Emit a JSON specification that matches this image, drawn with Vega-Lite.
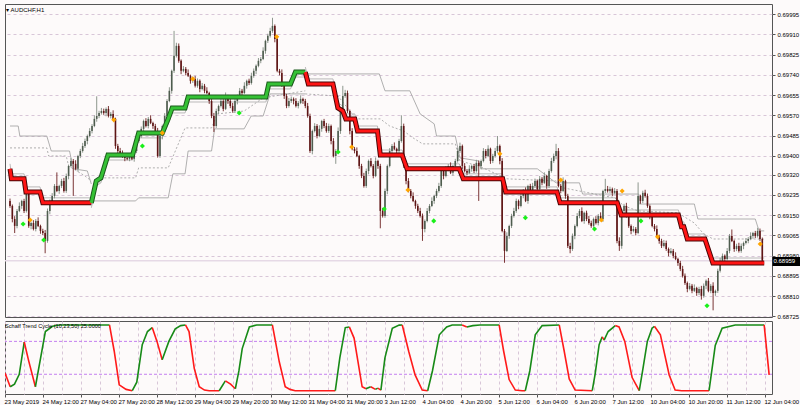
{
"$schema":"https://vega.github.io/schema/vega-lite/v6.json",
"padding":{"left":3,"top":3,"right":0,"bottom":0},
"background":"#fdfafa",
"spacing":4,
"bounds":"flush",
"config":{
 "view":{"stroke":"#555555","strokeWidth":1},
 "axis":{"labelFont":"Liberation Sans","labelFontSize":6,"labelColor":"#000000","tickColor":"#555555","domainColor":"#555555","gridColor":"#d8c6d8","gridDash":[3,3],"gridWidth":1},
 "title":{"font":"Liberation Sans","fontWeight":"normal","color":"#000000","anchor":"start","baseline":"top"}
},
"datasets":{
"bars":[
{"i":0,"o":0.69210,"h":0.69220,"l":0.69181,"c":0.69189},
{"i":1,"o":0.69189,"h":0.69195,"l":0.69120,"c":0.69134},
{"i":2,"o":0.69134,"h":0.69146,"l":0.69075,"c":0.69105},
{"i":3,"o":0.69105,"h":0.69176,"l":0.69095,"c":0.69168},
{"i":4,"o":0.69168,"h":0.69204,"l":0.69163,"c":0.69189},
{"i":5,"o":0.69189,"h":0.69215,"l":0.69177,"c":0.69210},
{"i":6,"o":0.69210,"h":0.69219,"l":0.69159,"c":0.69168},
{"i":7,"o":0.69168,"h":0.69257,"l":0.69161,"c":0.69244},
{"i":8,"o":0.69244,"h":0.69254,"l":0.69097,"c":0.69105},
{"i":9,"o":0.69105,"h":0.69123,"l":0.69091,"c":0.69117},
{"i":10,"o":0.69117,"h":0.69129,"l":0.69086,"c":0.69092},
{"i":11,"o":0.69092,"h":0.69134,"l":0.69082,"c":0.69126},
{"i":12,"o":0.69126,"h":0.69141,"l":0.69100,"c":0.69105},
{"i":13,"o":0.69105,"h":0.69110,"l":0.69072,"c":0.69084},
{"i":14,"o":0.69084,"h":0.69093,"l":0.69066,"c":0.69075},
{"i":15,"o":0.69075,"h":0.69088,"l":0.68990,"c":0.69042},
{"i":16,"o":0.69042,"h":0.69178,"l":0.69034,"c":0.69168},
{"i":17,"o":0.69168,"h":0.69216,"l":0.69154,"c":0.69210},
{"i":18,"o":0.69210,"h":0.69243,"l":0.69204,"c":0.69231},
{"i":19,"o":0.69231,"h":0.69281,"l":0.69221,"c":0.69273},
{"i":20,"o":0.69273,"h":0.69330,"l":0.69247,"c":0.69252},
{"i":21,"o":0.69252,"h":0.69278,"l":0.69240,"c":0.69273},
{"i":22,"o":0.69273,"h":0.69303,"l":0.69264,"c":0.69294},
{"i":23,"o":0.69294,"h":0.69307,"l":0.69245,"c":0.69252},
{"i":24,"o":0.69252,"h":0.69325,"l":0.69244,"c":0.69315},
{"i":25,"o":0.69315,"h":0.69363,"l":0.69301,"c":0.69357},
{"i":26,"o":0.69357,"h":0.69390,"l":0.69351,"c":0.69378},
{"i":27,"o":0.69378,"h":0.69386,"l":0.69231,"c":0.69366},
{"i":28,"o":0.69366,"h":0.69381,"l":0.69340,"c":0.69345},
{"i":29,"o":0.69345,"h":0.69404,"l":0.69333,"c":0.69399},
{"i":30,"o":0.69399,"h":0.69429,"l":0.69390,"c":0.69420},
{"i":31,"o":0.69420,"h":0.69454,"l":0.69413,"c":0.69441},
{"i":32,"o":0.69441,"h":0.69472,"l":0.69433,"c":0.69462},
{"i":33,"o":0.69462,"h":0.69489,"l":0.69448,"c":0.69483},
{"i":34,"o":0.69483,"h":0.69516,"l":0.69477,"c":0.69504},
{"i":35,"o":0.69504,"h":0.69533,"l":0.69494,"c":0.69525},
{"i":36,"o":0.69525,"h":0.69570,"l":0.69520,"c":0.69555},
{"i":37,"o":0.69555,"h":0.69650,"l":0.69543,"c":0.69567},
{"i":38,"o":0.69567,"h":0.69589,"l":0.69558,"c":0.69580},
{"i":39,"o":0.69580,"h":0.69601,"l":0.69573,"c":0.69588},
{"i":40,"o":0.69588,"h":0.69598,"l":0.69572,"c":0.69580},
{"i":41,"o":0.69580,"h":0.69603,"l":0.69566,"c":0.69597},
{"i":42,"o":0.69597,"h":0.69609,"l":0.69561,"c":0.69567},
{"i":43,"o":0.69567,"h":0.69584,"l":0.69557,"c":0.69576},
{"i":44,"o":0.69576,"h":0.69591,"l":0.69550,"c":0.69555},
{"i":45,"o":0.69555,"h":0.69560,"l":0.69429,"c":0.69441},
{"i":46,"o":0.69441,"h":0.69450,"l":0.69411,"c":0.69420},
{"i":47,"o":0.69420,"h":0.69433,"l":0.69405,"c":0.69412},
{"i":48,"o":0.69412,"h":0.69422,"l":0.69391,"c":0.69399},
{"i":49,"o":0.69399,"h":0.69405,"l":0.69377,"c":0.69391},
{"i":50,"o":0.69391,"h":0.69403,"l":0.69381,"c":0.69387},
{"i":51,"o":0.69387,"h":0.69407,"l":0.69377,"c":0.69399},
{"i":52,"o":0.69399,"h":0.69414,"l":0.69382,"c":0.69387},
{"i":53,"o":0.69387,"h":0.69425,"l":0.69375,"c":0.69420},
{"i":54,"o":0.69420,"h":0.69471,"l":0.69411,"c":0.69462},
{"i":55,"o":0.69462,"h":0.69496,"l":0.69455,"c":0.69483},
{"i":56,"o":0.69483,"h":0.69523,"l":0.69475,"c":0.69513},
{"i":57,"o":0.69513,"h":0.69552,"l":0.69499,"c":0.69546},
{"i":58,"o":0.69546,"h":0.69558,"l":0.69519,"c":0.69525},
{"i":59,"o":0.69525,"h":0.69563,"l":0.69515,"c":0.69555},
{"i":60,"o":0.69555,"h":0.69570,"l":0.69533,"c":0.69538},
{"i":61,"o":0.69538,"h":0.69543,"l":0.69513,"c":0.69525},
{"i":62,"o":0.69525,"h":0.69534,"l":0.69495,"c":0.69504},
{"i":63,"o":0.69504,"h":0.69517,"l":0.69392,"c":0.69399},
{"i":64,"o":0.69399,"h":0.69493,"l":0.69391,"c":0.69483},
{"i":65,"o":0.69483,"h":0.69531,"l":0.69469,"c":0.69525},
{"i":66,"o":0.69525,"h":0.69579,"l":0.69519,"c":0.69567},
{"i":67,"o":0.69567,"h":0.69638,"l":0.69557,"c":0.69630},
{"i":68,"o":0.69630,"h":0.69688,"l":0.69625,"c":0.69673},
{"i":69,"o":0.69673,"h":0.69762,"l":0.69661,"c":0.69757},
{"i":70,"o":0.69757,"h":0.69925,"l":0.69748,"c":0.69820},
{"i":71,"o":0.69820,"h":0.69875,"l":0.69813,"c":0.69862},
{"i":72,"o":0.69862,"h":0.69872,"l":0.69791,"c":0.69799},
{"i":73,"o":0.69799,"h":0.69805,"l":0.69743,"c":0.69757},
{"i":74,"o":0.69757,"h":0.69777,"l":0.69751,"c":0.69765},
{"i":75,"o":0.69765,"h":0.69773,"l":0.69738,"c":0.69748},
{"i":76,"o":0.69748,"h":0.69763,"l":0.69731,"c":0.69736},
{"i":77,"o":0.69736,"h":0.69741,"l":0.69703,"c":0.69715},
{"i":78,"o":0.69715,"h":0.69732,"l":0.69706,"c":0.69723},
{"i":79,"o":0.69723,"h":0.69736,"l":0.69687,"c":0.69694},
{"i":80,"o":0.69694,"h":0.69725,"l":0.69686,"c":0.69715},
{"i":81,"o":0.69715,"h":0.69721,"l":0.69667,"c":0.69681},
{"i":82,"o":0.69681,"h":0.69706,"l":0.69675,"c":0.69694},
{"i":83,"o":0.69694,"h":0.69702,"l":0.69663,"c":0.69673},
{"i":84,"o":0.69673,"h":0.69688,"l":0.69659,"c":0.69664},
{"i":85,"o":0.69664,"h":0.69669,"l":0.69618,"c":0.69630},
{"i":86,"o":0.69630,"h":0.69639,"l":0.69558,"c":0.69567},
{"i":87,"o":0.69567,"h":0.69580,"l":0.69500,"c":0.69525},
{"i":88,"o":0.69525,"h":0.69598,"l":0.69517,"c":0.69588},
{"i":89,"o":0.69588,"h":0.69615,"l":0.69574,"c":0.69609},
{"i":90,"o":0.69609,"h":0.69642,"l":0.69603,"c":0.69630},
{"i":91,"o":0.69630,"h":0.69638,"l":0.69587,"c":0.69597},
{"i":92,"o":0.69597,"h":0.69666,"l":0.69592,"c":0.69651},
{"i":93,"o":0.69651,"h":0.69656,"l":0.69618,"c":0.69630},
{"i":94,"o":0.69630,"h":0.69639,"l":0.69600,"c":0.69609},
{"i":95,"o":0.69609,"h":0.69622,"l":0.69581,"c":0.69588},
{"i":96,"o":0.69588,"h":0.69640,"l":0.69580,"c":0.69630},
{"i":97,"o":0.69630,"h":0.69657,"l":0.69616,"c":0.69651},
{"i":98,"o":0.69651,"h":0.69685,"l":0.69645,"c":0.69673},
{"i":99,"o":0.69673,"h":0.69681,"l":0.69654,"c":0.69664},
{"i":100,"o":0.69664,"h":0.69709,"l":0.69659,"c":0.69694},
{"i":101,"o":0.69694,"h":0.69720,"l":0.69682,"c":0.69715},
{"i":102,"o":0.69715,"h":0.69724,"l":0.69697,"c":0.69706},
{"i":103,"o":0.69706,"h":0.69749,"l":0.69699,"c":0.69736},
{"i":104,"o":0.69736,"h":0.69767,"l":0.69728,"c":0.69757},
{"i":105,"o":0.69757,"h":0.69784,"l":0.69743,"c":0.69778},
{"i":106,"o":0.69778,"h":0.69811,"l":0.69772,"c":0.69799},
{"i":107,"o":0.69799,"h":0.69815,"l":0.69789,"c":0.69807},
{"i":108,"o":0.69807,"h":0.69856,"l":0.69802,"c":0.69841},
{"i":109,"o":0.69841,"h":0.69888,"l":0.69829,"c":0.69883},
{"i":110,"o":0.69883,"h":0.69913,"l":0.69874,"c":0.69904},
{"i":111,"o":0.69904,"h":0.69938,"l":0.69897,"c":0.69925},
{"i":112,"o":0.69925,"h":0.69980,"l":0.69917,"c":0.69946},
{"i":113,"o":0.69946,"h":0.69952,"l":0.69877,"c":0.69891},
{"i":114,"o":0.69891,"h":0.69903,"l":0.69751,"c":0.69757},
{"i":115,"o":0.69757,"h":0.69765,"l":0.69738,"c":0.69748},
{"i":116,"o":0.69748,"h":0.69763,"l":0.69689,"c":0.69694},
{"i":117,"o":0.69694,"h":0.69699,"l":0.69639,"c":0.69651},
{"i":118,"o":0.69651,"h":0.69660,"l":0.69600,"c":0.69609},
{"i":119,"o":0.69609,"h":0.69643,"l":0.69602,"c":0.69630},
{"i":120,"o":0.69630,"h":0.69649,"l":0.69622,"c":0.69639},
{"i":121,"o":0.69639,"h":0.69645,"l":0.69616,"c":0.69630},
{"i":122,"o":0.69630,"h":0.69642,"l":0.69603,"c":0.69609},
{"i":123,"o":0.69609,"h":0.69630,"l":0.69599,"c":0.69622},
{"i":124,"o":0.69622,"h":0.69654,"l":0.69617,"c":0.69639},
{"i":125,"o":0.69639,"h":0.69644,"l":0.69618,"c":0.69630},
{"i":126,"o":0.69630,"h":0.69639,"l":0.69600,"c":0.69609},
{"i":127,"o":0.69609,"h":0.69622,"l":0.69560,"c":0.69567},
{"i":128,"o":0.69567,"h":0.69577,"l":0.69412,"c":0.69420},
{"i":129,"o":0.69420,"h":0.69510,"l":0.69406,"c":0.69504},
{"i":130,"o":0.69504,"h":0.69537,"l":0.69498,"c":0.69525},
{"i":131,"o":0.69525,"h":0.69533,"l":0.69473,"c":0.69483},
{"i":132,"o":0.69483,"h":0.69528,"l":0.69478,"c":0.69513},
{"i":133,"o":0.69513,"h":0.69551,"l":0.69501,"c":0.69546},
{"i":134,"o":0.69546,"h":0.69555,"l":0.69516,"c":0.69525},
{"i":135,"o":0.69525,"h":0.69538,"l":0.69497,"c":0.69504},
{"i":136,"o":0.69504,"h":0.69535,"l":0.69496,"c":0.69525},
{"i":137,"o":0.69525,"h":0.69531,"l":0.69448,"c":0.69462},
{"i":138,"o":0.69462,"h":0.69474,"l":0.69393,"c":0.69399},
{"i":139,"o":0.69399,"h":0.69428,"l":0.69366,"c":0.69420},
{"i":140,"o":0.69420,"h":0.69519,"l":0.69415,"c":0.69504},
{"i":141,"o":0.69504,"h":0.69593,"l":0.69492,"c":0.69588},
{"i":142,"o":0.69588,"h":0.69694,"l":0.69579,"c":0.69651},
{"i":143,"o":0.69651,"h":0.69677,"l":0.69644,"c":0.69664},
{"i":144,"o":0.69664,"h":0.69674,"l":0.69580,"c":0.69588},
{"i":145,"o":0.69588,"h":0.69594,"l":0.69490,"c":0.69504},
{"i":146,"o":0.69504,"h":0.69516,"l":0.69423,"c":0.69429},
{"i":147,"o":0.69429,"h":0.69437,"l":0.69410,"c":0.69420},
{"i":148,"o":0.69420,"h":0.69435,"l":0.69394,"c":0.69399},
{"i":149,"o":0.69399,"h":0.69404,"l":0.69345,"c":0.69357},
{"i":150,"o":0.69357,"h":0.69366,"l":0.69306,"c":0.69315},
{"i":151,"o":0.69315,"h":0.69328,"l":0.69266,"c":0.69273},
{"i":152,"o":0.69273,"h":0.69346,"l":0.69265,"c":0.69336},
{"i":153,"o":0.69336,"h":0.69384,"l":0.69322,"c":0.69378},
{"i":154,"o":0.69378,"h":0.69390,"l":0.69351,"c":0.69357},
{"i":155,"o":0.69357,"h":0.69365,"l":0.69305,"c":0.69315},
{"i":156,"o":0.69315,"h":0.69393,"l":0.69310,"c":0.69378},
{"i":157,"o":0.69378,"h":0.69383,"l":0.69345,"c":0.69357},
{"i":158,"o":0.69357,"h":0.69366,"l":0.69095,"c":0.69168},
{"i":159,"o":0.69168,"h":0.69181,"l":0.69140,"c":0.69147},
{"i":160,"o":0.69147,"h":0.69262,"l":0.69139,"c":0.69252},
{"i":161,"o":0.69252,"h":0.69363,"l":0.69238,"c":0.69357},
{"i":162,"o":0.69357,"h":0.69432,"l":0.69351,"c":0.69420},
{"i":163,"o":0.69420,"h":0.69449,"l":0.69410,"c":0.69441},
{"i":164,"o":0.69441,"h":0.69456,"l":0.69424,"c":0.69429},
{"i":165,"o":0.69429,"h":0.69434,"l":0.69408,"c":0.69420},
{"i":166,"o":0.69420,"h":0.69471,"l":0.69411,"c":0.69462},
{"i":167,"o":0.69462,"h":0.69570,"l":0.69455,"c":0.69525},
{"i":168,"o":0.69525,"h":0.69535,"l":0.69349,"c":0.69357},
{"i":169,"o":0.69357,"h":0.69363,"l":0.69280,"c":0.69294},
{"i":170,"o":0.69294,"h":0.69306,"l":0.69246,"c":0.69252},
{"i":171,"o":0.69252,"h":0.69260,"l":0.69221,"c":0.69231},
{"i":172,"o":0.69231,"h":0.69246,"l":0.69205,"c":0.69210},
{"i":173,"o":0.69210,"h":0.69215,"l":0.69177,"c":0.69189},
{"i":174,"o":0.69189,"h":0.69198,"l":0.69159,"c":0.69168},
{"i":175,"o":0.69168,"h":0.69181,"l":0.69140,"c":0.69147},
{"i":176,"o":0.69147,"h":0.69157,"l":0.69042,"c":0.69092},
{"i":177,"o":0.69092,"h":0.69132,"l":0.69078,"c":0.69126},
{"i":178,"o":0.69126,"h":0.69180,"l":0.69120,"c":0.69168},
{"i":179,"o":0.69168,"h":0.69197,"l":0.69158,"c":0.69189},
{"i":180,"o":0.69189,"h":0.69225,"l":0.69184,"c":0.69210},
{"i":181,"o":0.69210,"h":0.69236,"l":0.69198,"c":0.69231},
{"i":182,"o":0.69231,"h":0.69261,"l":0.69222,"c":0.69252},
{"i":183,"o":0.69252,"h":0.69286,"l":0.69245,"c":0.69273},
{"i":184,"o":0.69273,"h":0.69346,"l":0.69265,"c":0.69336},
{"i":185,"o":0.69336,"h":0.69342,"l":0.69301,"c":0.69315},
{"i":186,"o":0.69315,"h":0.69357,"l":0.69309,"c":0.69345},
{"i":187,"o":0.69345,"h":0.69365,"l":0.69335,"c":0.69357},
{"i":188,"o":0.69357,"h":0.69372,"l":0.69323,"c":0.69328},
{"i":189,"o":0.69328,"h":0.69362,"l":0.69316,"c":0.69357},
{"i":190,"o":0.69357,"h":0.69387,"l":0.69348,"c":0.69378},
{"i":191,"o":0.69378,"h":0.69433,"l":0.69371,"c":0.69420},
{"i":192,"o":0.69420,"h":0.69455,"l":0.69412,"c":0.69441},
{"i":193,"o":0.69441,"h":0.69447,"l":0.69343,"c":0.69357},
{"i":194,"o":0.69357,"h":0.69369,"l":0.69330,"c":0.69336},
{"i":195,"o":0.69336,"h":0.69344,"l":0.69318,"c":0.69328},
{"i":196,"o":0.69328,"h":0.69360,"l":0.69323,"c":0.69345},
{"i":197,"o":0.69345,"h":0.69362,"l":0.69333,"c":0.69357},
{"i":198,"o":0.69357,"h":0.69366,"l":0.69327,"c":0.69336},
{"i":199,"o":0.69336,"h":0.69383,"l":0.69329,"c":0.69370},
{"i":200,"o":0.69370,"h":0.69380,"l":0.69210,"c":0.69357},
{"i":201,"o":0.69357,"h":0.69384,"l":0.69343,"c":0.69378},
{"i":202,"o":0.69378,"h":0.69432,"l":0.69372,"c":0.69420},
{"i":203,"o":0.69420,"h":0.69428,"l":0.69389,"c":0.69399},
{"i":204,"o":0.69399,"h":0.69444,"l":0.69394,"c":0.69429},
{"i":205,"o":0.69429,"h":0.69434,"l":0.69366,"c":0.69378},
{"i":206,"o":0.69378,"h":0.69408,"l":0.69369,"c":0.69399},
{"i":207,"o":0.69399,"h":0.69433,"l":0.69392,"c":0.69420},
{"i":208,"o":0.69420,"h":0.69483,"l":0.69412,"c":0.69441},
{"i":209,"o":0.69441,"h":0.69447,"l":0.69364,"c":0.69378},
{"i":210,"o":0.69378,"h":0.69390,"l":0.69078,"c":0.69084},
{"i":211,"o":0.69084,"h":0.69092,"l":0.68950,"c":0.69000},
{"i":212,"o":0.69000,"h":0.69078,"l":0.68995,"c":0.69063},
{"i":213,"o":0.69063,"h":0.69110,"l":0.69051,"c":0.69105},
{"i":214,"o":0.69105,"h":0.69156,"l":0.69096,"c":0.69147},
{"i":215,"o":0.69147,"h":0.69181,"l":0.69140,"c":0.69168},
{"i":216,"o":0.69168,"h":0.69220,"l":0.69160,"c":0.69210},
{"i":217,"o":0.69210,"h":0.69216,"l":0.69175,"c":0.69189},
{"i":218,"o":0.69189,"h":0.69243,"l":0.69183,"c":0.69231},
{"i":219,"o":0.69231,"h":0.69260,"l":0.69221,"c":0.69252},
{"i":220,"o":0.69252,"h":0.69267,"l":0.69205,"c":0.69210},
{"i":221,"o":0.69210,"h":0.69278,"l":0.69198,"c":0.69273},
{"i":222,"o":0.69273,"h":0.69282,"l":0.69243,"c":0.69252},
{"i":223,"o":0.69252,"h":0.69286,"l":0.69245,"c":0.69273},
{"i":224,"o":0.69273,"h":0.69304,"l":0.69265,"c":0.69294},
{"i":225,"o":0.69294,"h":0.69300,"l":0.69246,"c":0.69260},
{"i":226,"o":0.69260,"h":0.69315,"l":0.69254,"c":0.69303},
{"i":227,"o":0.69303,"h":0.69311,"l":0.69276,"c":0.69286},
{"i":228,"o":0.69286,"h":0.69330,"l":0.69281,"c":0.69315},
{"i":229,"o":0.69315,"h":0.69320,"l":0.69261,"c":0.69273},
{"i":230,"o":0.69273,"h":0.69345,"l":0.69264,"c":0.69336},
{"i":231,"o":0.69336,"h":0.69391,"l":0.69329,"c":0.69378},
{"i":232,"o":0.69378,"h":0.69409,"l":0.69370,"c":0.69399},
{"i":233,"o":0.69399,"h":0.69450,"l":0.69385,"c":0.69420},
{"i":234,"o":0.69420,"h":0.69432,"l":0.69267,"c":0.69273},
{"i":235,"o":0.69273,"h":0.69281,"l":0.69242,"c":0.69252},
{"i":236,"o":0.69252,"h":0.69309,"l":0.69247,"c":0.69294},
{"i":237,"o":0.69294,"h":0.69299,"l":0.69219,"c":0.69231},
{"i":238,"o":0.69231,"h":0.69240,"l":0.69012,"c":0.69021},
{"i":239,"o":0.69021,"h":0.69034,"l":0.68990,"c":0.69008},
{"i":240,"o":0.69008,"h":0.69073,"l":0.69000,"c":0.69063},
{"i":241,"o":0.69063,"h":0.69111,"l":0.69049,"c":0.69105},
{"i":242,"o":0.69105,"h":0.69159,"l":0.69099,"c":0.69147},
{"i":243,"o":0.69147,"h":0.69176,"l":0.69137,"c":0.69168},
{"i":244,"o":0.69168,"h":0.69183,"l":0.69121,"c":0.69126},
{"i":245,"o":0.69126,"h":0.69165,"l":0.69114,"c":0.69160},
{"i":246,"o":0.69160,"h":0.69169,"l":0.69125,"c":0.69134},
{"i":247,"o":0.69134,"h":0.69147,"l":0.69110,"c":0.69117},
{"i":248,"o":0.69117,"h":0.69127,"l":0.69097,"c":0.69105},
{"i":249,"o":0.69105,"h":0.69140,"l":0.69091,"c":0.69134},
{"i":250,"o":0.69134,"h":0.69146,"l":0.69111,"c":0.69117},
{"i":251,"o":0.69117,"h":0.69155,"l":0.69107,"c":0.69147},
{"i":252,"o":0.69147,"h":0.69162,"l":0.69129,"c":0.69134},
{"i":253,"o":0.69134,"h":0.69257,"l":0.69122,"c":0.69252},
{"i":254,"o":0.69252,"h":0.69303,"l":0.69243,"c":0.69260},
{"i":255,"o":0.69260,"h":0.69273,"l":0.69245,"c":0.69252},
{"i":256,"o":0.69252,"h":0.69270,"l":0.69244,"c":0.69260},
{"i":257,"o":0.69260,"h":0.69266,"l":0.69230,"c":0.69244},
{"i":258,"o":0.69244,"h":0.69264,"l":0.69238,"c":0.69252},
{"i":259,"o":0.69252,"h":0.69260,"l":0.69032,"c":0.69042},
{"i":260,"o":0.69042,"h":0.69057,"l":0.69000,"c":0.69021},
{"i":261,"o":0.69021,"h":0.69173,"l":0.69009,"c":0.69168},
{"i":262,"o":0.69168,"h":0.69198,"l":0.69159,"c":0.69189},
{"i":263,"o":0.69189,"h":0.69202,"l":0.69140,"c":0.69147},
{"i":264,"o":0.69147,"h":0.69157,"l":0.69097,"c":0.69105},
{"i":265,"o":0.69105,"h":0.69111,"l":0.69070,"c":0.69084},
{"i":266,"o":0.69084,"h":0.69104,"l":0.69078,"c":0.69092},
{"i":267,"o":0.69092,"h":0.69100,"l":0.69065,"c":0.69075},
{"i":268,"o":0.69075,"h":0.69288,"l":0.69070,"c":0.69231},
{"i":269,"o":0.69231,"h":0.69236,"l":0.69198,"c":0.69210},
{"i":270,"o":0.69210,"h":0.69253,"l":0.69201,"c":0.69244},
{"i":271,"o":0.69244,"h":0.69257,"l":0.69224,"c":0.69231},
{"i":272,"o":0.69231,"h":0.69241,"l":0.69181,"c":0.69189},
{"i":273,"o":0.69189,"h":0.69195,"l":0.69133,"c":0.69147},
{"i":274,"o":0.69147,"h":0.69159,"l":0.69099,"c":0.69105},
{"i":275,"o":0.69105,"h":0.69113,"l":0.69082,"c":0.69092},
{"i":276,"o":0.69092,"h":0.69107,"l":0.69058,"c":0.69063},
{"i":277,"o":0.69063,"h":0.69068,"l":0.69030,"c":0.69042},
{"i":278,"o":0.69042,"h":0.69051,"l":0.69012,"c":0.69021},
{"i":279,"o":0.69021,"h":0.69046,"l":0.69014,"c":0.69033},
{"i":280,"o":0.69033,"h":0.69043,"l":0.69000,"c":0.69008},
{"i":281,"o":0.69008,"h":0.69014,"l":0.68977,"c":0.68991},
{"i":282,"o":0.68991,"h":0.69012,"l":0.68985,"c":0.69000},
{"i":283,"o":0.69000,"h":0.69008,"l":0.68969,"c":0.68979},
{"i":284,"o":0.68979,"h":0.68994,"l":0.68961,"c":0.68966},
{"i":285,"o":0.68966,"h":0.68971,"l":0.68937,"c":0.68949},
{"i":286,"o":0.68949,"h":0.68958,"l":0.68915,"c":0.68924},
{"i":287,"o":0.68924,"h":0.68937,"l":0.68888,"c":0.68895},
{"i":288,"o":0.68895,"h":0.68905,"l":0.68857,"c":0.68865},
{"i":289,"o":0.68865,"h":0.68871,"l":0.68826,"c":0.68840},
{"i":290,"o":0.68840,"h":0.68865,"l":0.68834,"c":0.68853},
{"i":291,"o":0.68853,"h":0.68861,"l":0.68822,"c":0.68832},
{"i":292,"o":0.68832,"h":0.68859,"l":0.68827,"c":0.68844},
{"i":293,"o":0.68844,"h":0.68849,"l":0.68811,"c":0.68823},
{"i":294,"o":0.68823,"h":0.68849,"l":0.68814,"c":0.68840},
{"i":295,"o":0.68840,"h":0.68853,"l":0.68795,"c":0.68811},
{"i":296,"o":0.68811,"h":0.68863,"l":0.68803,"c":0.68853},
{"i":297,"o":0.68853,"h":0.68880,"l":0.68839,"c":0.68874},
{"i":298,"o":0.68874,"h":0.68886,"l":0.68826,"c":0.68832},
{"i":299,"o":0.68832,"h":0.68861,"l":0.68822,"c":0.68853},
{"i":300,"o":0.68853,"h":0.68868,"l":0.68750,"c":0.68823},
{"i":301,"o":0.68823,"h":0.68837,"l":0.68811,"c":0.68832},
{"i":302,"o":0.68832,"h":0.68925,"l":0.68823,"c":0.68916},
{"i":303,"o":0.68916,"h":0.68971,"l":0.68909,"c":0.68958},
{"i":304,"o":0.68958,"h":0.68989,"l":0.68950,"c":0.68979},
{"i":305,"o":0.68979,"h":0.68985,"l":0.68952,"c":0.68966},
{"i":306,"o":0.68966,"h":0.69012,"l":0.68960,"c":0.69000},
{"i":307,"o":0.69000,"h":0.69071,"l":0.68990,"c":0.69063},
{"i":308,"o":0.69063,"h":0.69090,"l":0.69037,"c":0.69042},
{"i":309,"o":0.69042,"h":0.69047,"l":0.68996,"c":0.69008},
{"i":310,"o":0.69008,"h":0.69030,"l":0.68999,"c":0.69021},
{"i":311,"o":0.69021,"h":0.69034,"l":0.68993,"c":0.69000},
{"i":312,"o":0.69000,"h":0.69031,"l":0.68992,"c":0.69021},
{"i":313,"o":0.69021,"h":0.69039,"l":0.69007,"c":0.69033},
{"i":314,"o":0.69033,"h":0.69054,"l":0.69027,"c":0.69042},
{"i":315,"o":0.69042,"h":0.69058,"l":0.69032,"c":0.69050},
{"i":316,"o":0.69050,"h":0.69078,"l":0.69045,"c":0.69063},
{"i":317,"o":0.69063,"h":0.69080,"l":0.69051,"c":0.69075},
{"i":318,"o":0.69075,"h":0.69084,"l":0.69054,"c":0.69063},
{"i":319,"o":0.69063,"h":0.69097,"l":0.69056,"c":0.69084},
{"i":320,"o":0.69084,"h":0.69094,"l":0.69042,"c":0.69050},
{"i":321,"o":0.69050,"h":0.69056,"l":0.68945,"c":0.68959}
],
"trend":[
{"i":0,"p":0.69345,"g":1,"d":"dn"},{"i":0.6,"p":0.69303,"g":1,"d":"dn"},{"i":6,"p":0.69303,"g":1,"d":"dn"},{"i":6.8,"p":0.69248,"g":1,"d":"dn"},{"i":12.8,"p":0.69248,"g":1,"d":"dn"},{"i":14,"p":0.69202,"g":1,"d":"dn"},{"i":34.7,"p":0.69202,"g":1,"d":"dn"},
{"i":34.7,"p":0.69202,"g":2,"d":"up"},{"i":36.8,"p":0.69294,"g":2,"d":"up"},{"i":38.8,"p":0.69307,"g":2,"d":"up"},{"i":41.8,"p":0.69403,"g":2,"d":"up"},{"i":52.3,"p":0.69403,"g":2,"d":"up"},{"i":54.9,"p":0.69496,"g":2,"d":"up"},{"i":65,"p":0.69496,"g":2,"d":"up"},{"i":67.5,"p":0.69555,"g":2,"d":"up"},{"i":69.2,"p":0.69601,"g":2,"d":"up"},{"i":74.7,"p":0.69601,"g":2,"d":"up"},{"i":76,"p":0.69647,"g":2,"d":"up"},{"i":109.2,"p":0.69647,"g":2,"d":"up"},{"i":110.4,"p":0.69702,"g":2,"d":"up"},{"i":119.7,"p":0.69702,"g":2,"d":"up"},{"i":121.8,"p":0.69752,"g":2,"d":"up"},{"i":126,"p":0.69752,"g":2,"d":"up"},
{"i":126,"p":0.69752,"g":3,"d":"dn"},{"i":127.3,"p":0.69702,"g":3,"d":"dn"},{"i":137.8,"p":0.69702,"g":3,"d":"dn"},{"i":139.9,"p":0.69601,"g":3,"d":"dn"},{"i":142,"p":0.69588,"g":3,"d":"dn"},{"i":143.3,"p":0.69555,"g":3,"d":"dn"},{"i":147.1,"p":0.69555,"g":3,"d":"dn"},{"i":148.3,"p":0.69504,"g":3,"d":"dn"},{"i":156.8,"p":0.69504,"g":3,"d":"dn"},{"i":158,"p":0.69403,"g":3,"d":"dn"},{"i":167.3,"p":0.69403,"g":3,"d":"dn"},{"i":169.4,"p":0.69345,"g":3,"d":"dn"},{"i":191.7,"p":0.69345,"g":3,"d":"dn"},{"i":193.4,"p":0.69303,"g":3,"d":"dn"},{"i":210.2,"p":0.69303,"g":3,"d":"dn"},{"i":211.5,"p":0.69248,"g":3,"d":"dn"},{"i":233.4,"p":0.69248,"g":3,"d":"dn"},{"i":234.7,"p":0.69202,"g":3,"d":"dn"},{"i":259.1,"p":0.69202,"g":3,"d":"dn"},{"i":260.8,"p":0.69151,"g":3,"d":"dn"},{"i":285.2,"p":0.69151,"g":3,"d":"dn"},{"i":286.5,"p":0.69101,"g":3,"d":"dn"},{"i":287.5,"p":0.69101,"g":3,"d":"dn"},{"i":289,"p":0.69050,"g":3,"d":"dn"},{"i":296.5,"p":0.69050,"g":3,"d":"dn"},{"i":299.9,"p":0.68949,"g":3,"d":"dn"},{"i":321.8,"p":0.68949,"g":3,"d":"dn"}
],
"far":[
{"i":0,"p":0.69525,"s":1},{"i":3.5,"p":0.69525,"s":1},{"i":4.2,"p":0.69483,"s":1},{"i":15.7,"p":0.69483,"s":1},{"i":17.6,"p":0.69420,"s":1},{"i":25.4,"p":0.69420,"s":1},{"i":27,"p":0.69345,"s":1},{"i":33,"p":0.69336,"s":1},{"i":34.7,"p":0.69281,"s":1},
{"i":34.7,"p":0.69210,"s":2},{"i":53.6,"p":0.69210,"s":2},{"i":54.9,"p":0.69223,"s":2},{"i":67.5,"p":0.69223,"s":2},{"i":69.5,"p":0.69324,"s":2},{"i":74.7,"p":0.69324,"s":2},{"i":76,"p":0.69420,"s":2},{"i":86,"p":0.69420,"s":2},{"i":87.3,"p":0.69513,"s":2},{"i":99.9,"p":0.69513,"s":2},{"i":102.9,"p":0.69567,"s":2},{"i":108,"p":0.69567,"s":2},{"i":111,"p":0.69660,"s":2},{"i":126,"p":0.69660,"s":2},
{"i":126,"p":0.69744,"s":3},{"i":157.6,"p":0.69744,"s":3},{"i":160,"p":0.69673,"s":3},{"i":170.6,"p":0.69673,"s":3},{"i":175,"p":0.69576,"s":3},{"i":181,"p":0.69534,"s":3},{"i":182,"p":0.69483,"s":3},{"i":190,"p":0.69483,"s":3},{"i":192,"p":0.69391,"s":3},{"i":200,"p":0.69378,"s":3},{"i":201,"p":0.69345,"s":3},{"i":225,"p":0.69345,"s":3},{"i":233,"p":0.69286,"s":3},{"i":243,"p":0.69286,"s":3},{"i":244.3,"p":0.69239,"s":3},{"i":268.3,"p":0.69239,"s":3},{"i":268.5,"p":0.69197,"s":3},{"i":292,"p":0.69197,"s":3},{"i":293.5,"p":0.69134,"s":3},{"i":318,"p":0.69134,"s":3},{"i":319.6,"p":0.69084,"s":3},{"i":321.8,"p":0.69084,"s":3}
],
"mid":[
{"i":0,"p":0.69433,"s":1},{"i":15.7,"p":0.69433,"s":1},{"i":16.5,"p":0.69399,"s":1},{"i":24,"p":0.69399,"s":1},{"i":25,"p":0.69357,"s":1},{"i":32,"p":0.69315,"s":1},{"i":34.7,"p":0.69294,"s":1},
{"i":34.7,"p":0.69244,"s":2},{"i":40,"p":0.69307,"s":2},{"i":53.6,"p":0.69307,"s":2},{"i":54.9,"p":0.69349,"s":2},{"i":67.5,"p":0.69349,"s":2},{"i":74.7,"p":0.69517,"s":2},{"i":86,"p":0.69517,"s":2},{"i":88.5,"p":0.69576,"s":2},{"i":99.9,"p":0.69588,"s":2},{"i":108,"p":0.69643,"s":2},{"i":126,"p":0.69673,"s":2},
{"i":126,"p":0.69660,"s":3},{"i":140,"p":0.69651,"s":3},{"i":145,"p":0.69588,"s":3},{"i":148,"p":0.69555,"s":3},{"i":158,"p":0.69555,"s":3},{"i":162,"p":0.69525,"s":3},{"i":168,"p":0.69504,"s":3},{"i":172,"p":0.69475,"s":3},{"i":176,"p":0.69450,"s":3},{"i":190,"p":0.69450,"s":3},{"i":192,"p":0.69378,"s":3},{"i":200,"p":0.69357,"s":3},{"i":212,"p":0.69303,"s":3},{"i":233,"p":0.69294,"s":3},{"i":236,"p":0.69265,"s":3},{"i":258,"p":0.69223,"s":3},{"i":262,"p":0.69189,"s":3},{"i":268,"p":0.69168,"s":3},{"i":285,"p":0.69160,"s":3},{"i":292,"p":0.69117,"s":3},{"i":296,"p":0.69071,"s":3},{"i":300,"p":0.69050,"s":3},{"i":321.8,"p":0.69050,"s":3}
],
"near":[
{"i":0,"p":0.69366,"s":1},{"i":0.6,"p":0.69324,"s":1},{"i":6,"p":0.69324,"s":1},{"i":6.8,"p":0.69269,"s":1},{"i":12.8,"p":0.69269,"s":1},{"i":14,"p":0.69223,"s":1},{"i":34.7,"p":0.69223,"s":1},
{"i":34.7,"p":0.69181,"s":2},{"i":36.8,"p":0.69273,"s":2},{"i":38.8,"p":0.69286,"s":2},{"i":41.8,"p":0.69382,"s":2},{"i":52.3,"p":0.69382,"s":2},{"i":54.9,"p":0.69475,"s":2},{"i":65,"p":0.69475,"s":2},{"i":67.5,"p":0.69534,"s":2},{"i":69.2,"p":0.69580,"s":2},{"i":74.7,"p":0.69580,"s":2},{"i":76,"p":0.69626,"s":2},{"i":109.2,"p":0.69626,"s":2},{"i":110.4,"p":0.69681,"s":2},{"i":119.7,"p":0.69681,"s":2},{"i":121.8,"p":0.69731,"s":2},{"i":126,"p":0.69731,"s":2},
{"i":126,"p":0.69773,"s":3},{"i":127.3,"p":0.69723,"s":3},{"i":137.8,"p":0.69723,"s":3},{"i":139.9,"p":0.69622,"s":3},{"i":142,"p":0.69609,"s":3},{"i":143.3,"p":0.69576,"s":3},{"i":147.1,"p":0.69576,"s":3},{"i":148.3,"p":0.69525,"s":3},{"i":156.8,"p":0.69525,"s":3},{"i":158,"p":0.69424,"s":3},{"i":167.3,"p":0.69424,"s":3},{"i":169.4,"p":0.69366,"s":3},{"i":191.7,"p":0.69366,"s":3},{"i":193.4,"p":0.69324,"s":3},{"i":210.2,"p":0.69324,"s":3},{"i":211.5,"p":0.69269,"s":3},{"i":233.4,"p":0.69269,"s":3},{"i":234.7,"p":0.69223,"s":3},{"i":259.1,"p":0.69223,"s":3},{"i":260.8,"p":0.69172,"s":3},{"i":285.2,"p":0.69172,"s":3},{"i":286.5,"p":0.69122,"s":3},{"i":287.5,"p":0.69122,"s":3},{"i":289,"p":0.69071,"s":3},{"i":296.5,"p":0.69071,"s":3},{"i":299.9,"p":0.68970,"s":3},{"i":321.8,"p":0.68970,"s":3}
],
"marks":[
{"i":8.6,"p":0.69130,"k":"o"},{"i":44.3,"p":0.69551,"k":"o"},{"i":65,"p":0.69496,"k":"o"},{"i":78,"p":0.69723,"k":"o"},{"i":113.8,"p":0.69900,"k":"o"},{"i":145.8,"p":0.69437,"k":"o"},{"i":169.8,"p":0.69256,"k":"o"},{"i":209,"p":0.69408,"k":"o"},{"i":235,"p":0.69298,"k":"o"},{"i":252.3,"p":0.69130,"k":"o"},{"i":261.2,"p":0.69252,"k":"o"},{"i":276.3,"p":0.69059,"k":"o"},{"i":320.1,"p":0.69029,"k":"o"},
{"i":5.6,"p":0.69113,"k":"g"},{"i":14.4,"p":0.69046,"k":"g"},{"i":56.5,"p":0.69441,"k":"g"},{"i":97.8,"p":0.69580,"k":"g"},{"i":140,"p":0.69416,"k":"g"},{"i":159.7,"p":0.69176,"k":"g"},{"i":180.8,"p":0.69126,"k":"g"},{"i":219.9,"p":0.69139,"k":"g"},{"i":249.4,"p":0.69092,"k":"g"},{"i":269.2,"p":0.69126,"k":"g"},{"i":297.4,"p":0.68769,"k":"g"}
],
"stc":[
{"i":0,"v":27,"g":1,"d":"dn"},{"i":2.2,"v":6,"g":1,"d":"dn"},
{"i":2.2,"v":6,"g":2,"d":"up"},{"i":4,"v":10,"g":2,"d":"up"},{"i":6,"v":25,"g":2,"d":"up"},{"i":8.1,"v":74,"g":2,"d":"up"},
{"i":8.1,"v":74,"g":3,"d":"dn"},{"i":10,"v":45,"g":3,"d":"dn"},{"i":12.8,"v":6,"g":3,"d":"dn"},
{"i":12.8,"v":6,"g":4,"d":"up"},{"i":15,"v":50,"g":4,"d":"up"},{"i":17,"v":90,"g":4,"d":"up"},{"i":20,"v":98,"g":4,"d":"up"},{"i":22.9,"v":100,"g":4,"d":"up"},{"i":44,"v":100,"g":4,"d":"up"},
{"i":44,"v":100,"g":5,"d":"dn"},{"i":46,"v":60,"g":5,"d":"dn"},{"i":48.1,"v":9,"g":5,"d":"dn"},{"i":51,"v":2,"g":5,"d":"dn"},{"i":53.6,"v":0,"g":5,"d":"dn"},
{"i":53.6,"v":0,"g":6,"d":"up"},{"i":55.5,"v":13,"g":6,"d":"up"},{"i":57.8,"v":70,"g":6,"d":"up"},{"i":60,"v":90,"g":6,"d":"up"},{"i":62,"v":96,"g":6,"d":"up"},
{"i":62,"v":96,"g":7,"d":"dn"},{"i":64,"v":75,"g":7,"d":"dn"},{"i":66.2,"v":47,"g":7,"d":"dn"},
{"i":66.2,"v":47,"g":8,"d":"up"},{"i":69,"v":75,"g":8,"d":"up"},{"i":71.7,"v":94,"g":8,"d":"up"},{"i":74,"v":99,"g":8,"d":"up"},{"i":76,"v":100,"g":8,"d":"up"},
{"i":76,"v":100,"g":9,"d":"dn"},{"i":77.5,"v":90,"g":9,"d":"dn"},{"i":79.7,"v":34,"g":9,"d":"dn"},{"i":81.8,"v":6,"g":9,"d":"dn"},{"i":84,"v":1,"g":9,"d":"dn"},{"i":86,"v":0,"g":9,"d":"dn"},{"i":90.2,"v":0,"g":9,"d":"dn"},
{"i":90.2,"v":0,"g":10,"d":"up"},{"i":92.8,"v":15,"g":10,"d":"up"},
{"i":92.8,"v":15,"g":11,"d":"dn"},{"i":95,"v":10,"g":11,"d":"dn"},{"i":97,"v":3,"g":11,"d":"dn"},
{"i":97,"v":3,"g":12,"d":"up"},{"i":98.5,"v":30,"g":12,"d":"up"},{"i":99.9,"v":64,"g":12,"d":"up"},{"i":102.9,"v":97,"g":12,"d":"up"},{"i":106,"v":100,"g":12,"d":"up"},{"i":112.6,"v":100,"g":12,"d":"up"},
{"i":112.6,"v":100,"g":13,"d":"dn"},{"i":115.5,"v":44,"g":13,"d":"dn"},{"i":118,"v":6,"g":13,"d":"dn"},{"i":120,"v":2,"g":13,"d":"dn"},{"i":122.2,"v":0,"g":13,"d":"dn"},{"i":139.1,"v":0,"g":13,"d":"dn"},
{"i":139.1,"v":0,"g":14,"d":"up"},{"i":141,"v":50,"g":14,"d":"up"},{"i":143.3,"v":96,"g":14,"d":"up"},{"i":145,"v":97,"g":14,"d":"up"},
{"i":145,"v":97,"g":15,"d":"dn"},{"i":147,"v":80,"g":15,"d":"dn"},{"i":150.4,"v":6,"g":15,"d":"dn"},{"i":152,"v":3,"g":15,"d":"dn"},
{"i":152,"v":3,"g":16,"d":"up"},{"i":154,"v":6,"g":16,"d":"up"},
{"i":154,"v":6,"g":17,"d":"dn"},{"i":156,"v":2,"g":17,"d":"dn"},
{"i":156,"v":2,"g":18,"d":"up"},{"i":157,"v":4,"g":18,"d":"up"},
{"i":157,"v":4,"g":19,"d":"dn"},{"i":158.3,"v":1,"g":19,"d":"dn"},
{"i":158.3,"v":1,"g":20,"d":"up"},{"i":160,"v":50,"g":20,"d":"up"},{"i":163.1,"v":95,"g":20,"d":"up"},{"i":166,"v":99.8,"g":20,"d":"up"},{"i":167.3,"v":100,"g":20,"d":"up"},
{"i":167.3,"v":100,"g":21,"d":"dn"},{"i":170,"v":60,"g":21,"d":"dn"},{"i":172.7,"v":24,"g":21,"d":"dn"},{"i":175.7,"v":1,"g":21,"d":"dn"},{"i":178,"v":0,"g":21,"d":"dn"},
{"i":178,"v":0,"g":22,"d":"up"},{"i":180,"v":30,"g":22,"d":"up"},{"i":182.9,"v":85,"g":22,"d":"up"},{"i":186,"v":97,"g":22,"d":"up"},{"i":188.3,"v":100,"g":22,"d":"up"},{"i":192.5,"v":100,"g":22,"d":"up"},
{"i":192.5,"v":100,"g":23,"d":"dn"},{"i":194.5,"v":97,"g":23,"d":"dn"},
{"i":194.5,"v":97,"g":24,"d":"up"},{"i":197,"v":99,"g":24,"d":"up"},{"i":200,"v":100,"g":24,"d":"up"},{"i":208.1,"v":100,"g":24,"d":"up"},
{"i":208.1,"v":100,"g":25,"d":"dn"},{"i":210,"v":60,"g":25,"d":"dn"},{"i":212.3,"v":17,"g":25,"d":"dn"},{"i":214.9,"v":1,"g":25,"d":"dn"},{"i":217.8,"v":0,"g":25,"d":"dn"},{"i":219.1,"v":0,"g":25,"d":"dn"},
{"i":219.1,"v":0,"g":26,"d":"up"},{"i":221,"v":30,"g":26,"d":"up"},{"i":223.3,"v":85,"g":26,"d":"up"},{"i":226.2,"v":99,"g":26,"d":"up"},{"i":233.4,"v":100,"g":26,"d":"up"},
{"i":233.4,"v":100,"g":27,"d":"dn"},{"i":235.5,"v":60,"g":27,"d":"dn"},{"i":237.6,"v":18,"g":27,"d":"dn"},{"i":240.1,"v":1,"g":27,"d":"dn"},{"i":247.3,"v":0,"g":27,"d":"dn"},
{"i":247.3,"v":0,"g":28,"d":"up"},{"i":248.5,"v":25,"g":28,"d":"up"},{"i":250.2,"v":70,"g":28,"d":"up"},{"i":251.5,"v":82,"g":28,"d":"up"},
{"i":251.5,"v":82,"g":29,"d":"dn"},{"i":252.3,"v":77,"g":29,"d":"dn"},
{"i":252.3,"v":77,"g":30,"d":"up"},{"i":254,"v":90,"g":30,"d":"up"},{"i":257,"v":99,"g":30,"d":"up"},
{"i":257,"v":99,"g":31,"d":"dn"},{"i":258.6,"v":97,"g":31,"d":"dn"},{"i":261,"v":75,"g":31,"d":"dn"},{"i":264.1,"v":20,"g":31,"d":"dn"},{"i":267.1,"v":0,"g":31,"d":"dn"},
{"i":267.1,"v":0,"g":32,"d":"up"},{"i":268.5,"v":30,"g":32,"d":"up"},{"i":270.5,"v":75,"g":32,"d":"up"},{"i":272.5,"v":95,"g":32,"d":"up"},{"i":273.5,"v":98,"g":32,"d":"up"},
{"i":273.5,"v":98,"g":33,"d":"dn"},{"i":276,"v":85,"g":33,"d":"dn"},{"i":279.7,"v":24,"g":33,"d":"dn"},{"i":282.2,"v":1,"g":33,"d":"dn"},{"i":285,"v":0,"g":33,"d":"dn"},{"i":296.5,"v":0,"g":33,"d":"dn"},
{"i":296.5,"v":0,"g":34,"d":"up"},{"i":299.1,"v":69,"g":34,"d":"up"},{"i":302,"v":95,"g":34,"d":"up"},{"i":307.5,"v":100,"g":34,"d":"up"},{"i":319.7,"v":100,"g":34,"d":"up"},
{"i":319.7,"v":100,"g":35,"d":"dn"},{"i":321.8,"v":24,"g":35,"d":"dn"}
]
},
"vconcat":[
{
 "width":767,"height":313,
 "title":{"text":"▾ AUDCHF,H1","fontSize":6,"offset":-9,"dx":2},
 "resolve":{"axis":{"y":"independent"}},
 "layer":[
  {"data":{"name":"far"},"mark":{"type":"line","color":"#9c9c9c","strokeWidth":0.8,"clip":true},
   "encoding":{"x":{"field":"i","type":"quantitative","scale":{"domain":[0,323],"nice":false,"zero":false},"axis":{"values":[0,8,16,24,32,40,48,56,64,72,80,88,96,104,112,120,128,136,144,152,160,168,176,184,192,200,208,216,224,232,240,248,256,264,272,280,288,296,304,312,320],"labels":false,"ticks":false,"domain":false,"grid":true,"title":null}},
   "y":{"field":"p","type":"quantitative","scale":{"domain":[0.68722,0.70038],"nice":false,"zero":false},"axis":null},"detail":{"field":"s"}}},
  {"data":{"name":"mid"},"mark":{"type":"line","color":"#9c9c9c","strokeWidth":0.8,"strokeDash":[2,2],"clip":true},
   "encoding":{"x":{"field":"i","type":"quantitative","axis":null},"y":{"field":"p","type":"quantitative","axis":null},"detail":{"field":"s"}}},
  {"data":{"name":"near"},"mark":{"type":"line","color":"#a8a8a8","strokeWidth":0.8,"clip":true},
   "encoding":{"x":{"field":"i","type":"quantitative","axis":null},"y":{"field":"p","type":"quantitative","axis":null},"detail":{"field":"s"}}},
  {"data":{"values":[{"p":0.68959}]},"mark":{"type":"rule","color":"#e6d9e6","strokeWidth":1.5},
   "encoding":{"y":{"field":"p","type":"quantitative","axis":null}}},
  {"data":{"name":"bars"},"mark":{"type":"rule","strokeWidth":1,"clip":true},
   "encoding":{"x":{"field":"i","type":"quantitative","axis":null},"y":{"field":"l","type":"quantitative","axis":null},"y2":{"field":"h"},
   "color":{"condition":{"test":"datum.c >= datum.o","value":"#8d978d"},"value":"#7a3535"}}},
  {"data":{"name":"bars"},"mark":{"type":"bar","width":1.6,"clip":true},
   "encoding":{"x":{"field":"i","type":"quantitative","axis":null},
   "y":{"field":"o","type":"quantitative","axis":{"orient":"right","values":[0.68725,0.6881,0.68895,0.6898,0.69065,0.6915,0.69235,0.6932,0.694,0.69485,0.6957,0.69655,0.6974,0.69825,0.6991,0.69995],"format":".5f","grid":true,"tickSize":3,"labelPadding":2,"domain":false,"title":null,"labelOverlap":false}},
   "y2":{"field":"c"},
   "color":{"condition":{"test":"datum.c >= datum.o","value":"#4e5c4e"},"value":"#5e1515"}}},
  {"data":{"name":"trend"},"mark":{"type":"line","strokeWidth":5,"clip":true},
   "encoding":{"x":{"field":"i","type":"quantitative","axis":null},"y":{"field":"p","type":"quantitative","axis":null},"detail":{"field":"g"},
   "color":{"condition":{"test":"datum.d == 'up'","value":"#1c5a1c"},"value":"#4a0606"}}},
  {"data":{"name":"trend"},"mark":{"type":"line","strokeWidth":3,"clip":true},
   "encoding":{"x":{"field":"i","type":"quantitative","axis":null},"y":{"field":"p","type":"quantitative","axis":null},"detail":{"field":"g"},
   "color":{"condition":{"test":"datum.d == 'up'","value":"#35c135"},"value":"#ff1414"}}},
  {"data":{"name":"marks"},"mark":{"type":"point","shape":"diamond","filled":true,"size":26,"opacity":1},
   "encoding":{"x":{"field":"i","type":"quantitative","axis":null},
   "y":{"field":"p","type":"quantitative","axis":{"orient":"right","values":[0.68959],"format":".5f","grid":false,"domain":false,"ticks":true,"tickSize":30,"tickWidth":9,"tickColor":"#000000","labelColor":"#ffffff","labelPadding":-29,"title":null,"labelOverlap":false,"labelBound":false}},
   "color":{"condition":{"test":"datum.k == 'o'","value":"#ffa500"},"value":"#19f019"}}}
 ]
},
{
 "width":767,"height":73,
 "title":{"text":"Schaff Trend Cycle (10,23,50) 25.0000","fontSize":5.6,"offset":-8.5,"dx":1},
 "layer":[
  {"data":{"values":[{"lv":25},{"lv":75}]},"mark":{"type":"rule","color":"#c47ff0","strokeWidth":1,"strokeDash":[3,2]},
   "encoding":{"y":{"field":"lv","type":"quantitative","scale":{"domain":[-5,106],"nice":false,"zero":false},"axis":null}}},
  {"data":{"name":"stc"},"mark":{"type":"line","strokeWidth":1.6,"clip":true},
   "encoding":{"x":{"field":"i","type":"quantitative","scale":{"domain":[0,323],"nice":false,"zero":false},
     "axis":{"values":[0,8,16,24,32,40,48,56,64,72,80,88,96,104,112,120,128,136,144,152,160,168,176,184,192,200,208,216,224,232,240,248,256,264,272,280,288,296,304,312,320],"grid":true,"domain":false,"tickSize":3,"labelPadding":1,"labelAlign":"left","labelOffset":-1,"labelOverlap":false,"labelBound":false,"title":null,
     "tickOpacity":{"condition":{"test":"datum.value % 16 == 0","value":1},"value":0},
     "labelExpr":"datum.value % 16 == 0 ? ['23 May 2019','24 May 12:00','27 May 04:00','27 May 20:00','28 May 12:00','29 May 04:00','29 May 20:00','30 May 12:00','31 May 04:00','31 May 20:00','3 Jun 12:00','4 Jun 04:00','4 Jun 20:00','5 Jun 12:00','6 Jun 04:00','6 Jun 20:00','7 Jun 12:00','10 Jun 04:00','10 Jun 20:00','11 Jun 12:00','12 Jun 04:00'][datum.value / 16] : ''"}},
    "y":{"field":"v","type":"quantitative","axis":{"orient":"right","values":[0,25,75,105],"grid":false,"domain":false,"tickSize":3,"labelPadding":2,"title":null,"labelOverlap":false,"labelExpr":"datum.value == 0 ? '0.00' : datum.label"}},
    "detail":{"field":"g"},
    "color":{"condition":{"test":"datum.d == 'up'","value":"#178a17"},"value":"#ff1a1a"}}}
 ]
}
]
}
